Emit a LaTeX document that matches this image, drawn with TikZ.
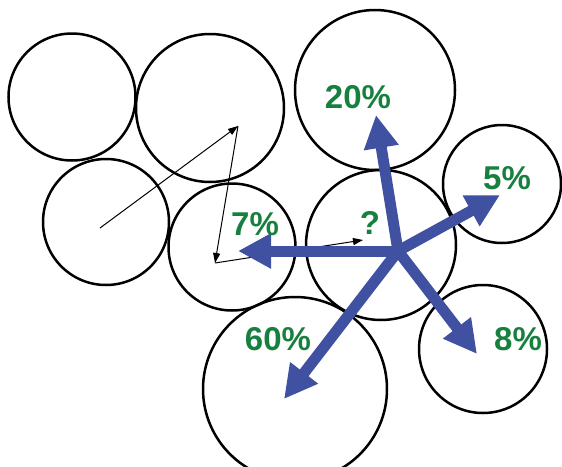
\documentclass[tikz,border=0pt]{standalone}
\usepackage{fontspec}
\setmainfont{Liberation Sans}
\usetikzlibrary{arrows.meta}
\definecolor{flowblue}{HTML}{3F51A0}
\definecolor{pctgreen}{HTML}{18803F}
\begin{document}
\begin{tikzpicture}[x=1pt,y=-1pt,
  ring/.style={circle,draw=black,line width=2.5pt,inner sep=0pt,outer sep=0pt,minimum size=#1},
  thinarrow/.style={line width=1pt,-{Triangle[length=10pt,width=7pt]}},
  flow/.style={draw=flowblue,line width=11pt,-{Triangle[length=33pt,width=33pt]},color=flowblue},
  pct/.style={font=\bfseries\fontsize{33}{37}\selectfont,text=pctgreen,inner sep=0pt}]
\useasboundingbox (0,0) rectangle (562,466);
\clip (0,0) rectangle (562,466);
% circles
\node[ring=127pt] (ca) at (72,97) {};
\node[ring=148pt] (cb) at (210,108) {};
\node[ring=126pt] (cc) at (106,222) {};
\node[ring=127pt] (cd) at (232,247) {};
\node[ring=150pt] (ce) at (381,245) {};
\node[ring=160pt] (cf) at (375,90) {};
\node[ring=118pt] (cg) at (502,184) {};
\node[ring=184pt] (ch) at (295,389) {};
\node[ring=128pt] (ci) at (483,349) {};
% thin path
\coordinate (p0) at (100,228);
\coordinate (p1) at (238,126);
\coordinate (p2) at (215,263);
\coordinate (p3) at (363,240);
\draw[thinarrow] (p0) -- (p1);
\draw[thinarrow] (p1) -- (p2);
\draw[thinarrow] (p2) -- (p3);
% blue flows
\coordinate (hub) at (398,251);
\coordinate (tf) at (376,115);
\coordinate (tg) at (500,195);
\coordinate (td) at (238,251);
\coordinate (ti) at (477,354);
\coordinate (th) at (284,399);
\draw[flow] (hub) -- (tf);
\draw[flow] (hub) -- (tg);
\draw[flow] (hub) -- (td);
\draw[flow] (hub) -- (ti);
\draw[flow] (hub) -- (th);
% labels
\node[pct] (lf) at (358,97) {20\%};
\node[pct] (lg) at (507,178) {5\%};
\node[pct] (ld) at (255,224) {7\%};
\node[pct] (le) at (370,223) {?};
\node[pct] (lh) at (278,339) {60\%};
\node[pct] (li) at (518,339) {8\%};
\end{tikzpicture}
\end{document}
